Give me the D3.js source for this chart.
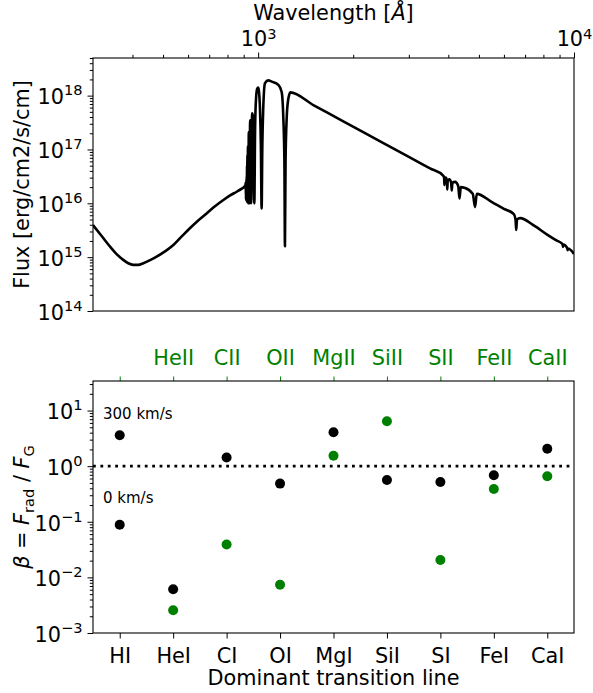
<!DOCTYPE html>
<html>
<head>
<meta charset="utf-8">
<script src="https://cdn.jsdelivr.net/npm/d3@7"></script>
<style>
  body { margin: 0; background: #fff; }
  text { font-family: "DejaVu Sans", sans-serif; }
</style>
</head>
<body>
<script>
// ---------------- DATA ----------------
const wavelength = [300, 320, 340, 357, 374, 388, 402, 417, 433, 455, 477, 507, 539, 572, 608, 646, 687, 730, 776, 815, 855, 885, 905, 912,
  913.2, 915.3, 915.55, 915.8, 916.1, 916.4, 916.8, 917.2, 917.65, 918.1, 918.7, 919.35, 920.15, 920.96,
  922.0, 923.15, 924.6, 926.23, 928.4, 930.75, 934.2, 937.8, 943.5, 949.74, 957, 962, 972.54,
  978, 985, 993, 1000, 1006, 1013, 1020, 1025.7, 1031, 1038, 1051, 1077, 1104, 1159, 1187,
  1201, 1211, 1215.7, 1221, 1232, 1245, 1255, 1263, 1500, 1817, 2500, 3000, 3500,
  3860, 3880, 3889, 3898, 3925, 3960, 3970, 3982, 4030, 4085, 4102, 4120, 4200, 4300, 4340, 4380,
  4500, 4780, 4861, 4923, 5500, 6000, 6450, 6530, 6563, 6600, 6748, 7500, 8199, 8800,
  9200, 9229, 9260, 9500, 9546, 9580, 10000];
const flux = [3.95e15, 2.45e15, 1.56e15, 1.13e15, 8.9e14, 7.7e14, 7.2e14, 7.2e14, 7.7e14, 8.8e14, 1.02e15, 1.28e15, 1.68e15, 2.4e15, 3.44e15, 4.8e15, 6.5e15, 8.8e15, 1.15e16, 1.4e16, 1.64e16, 1.85e16, 2.05e16, 2.2e16,
  2.4e16, 1.2e16, 2.3e16, 1.2e16, 2.4e16, 1.2e16, 2.5e16, 1.15e16, 2.6e16, 1.1e16, 2.8e16, 1.1e16, 3.2e16, 1.1e16,
  5.0e16, 1.05e16, 8.0e16, 1.05e16, 1.15e17, 1.0e16, 2.1e17, 1.0e16, 3.5e17, 1.0e16, 4.7e17, 4.2e17, 1.0e16,
  2.5e17, 9e17, 1.35e18, 1.42e18, 1.2e18, 6e17, 1.2e17, 8e15, 1.2e17, 6e17, 1.7e18, 1.92e18, 1.82e18, 1.58e18, 1.17e18,
  4.1e17, 6e16, 1.6e15, 6e16, 4.1e17, 8.5e17, 1.05e18, 1.15e18, 6.6e17, 3.6e17, 1.3e17, 7.3e16, 4.45e16,
  3.25e16, 2.9e16, 2.2e16, 2.9e16, 3.0e16, 2.6e16, 1.8e16, 2.6e16, 2.8e16, 2.4e16, 1.73e16, 2.4e16, 2.5e16, 2.1e16, 1.23e16, 2.0e16,
  1.95e16, 1.5e16, 8.5e15, 1.5e16, 1.05e16, 7.9e15, 6.3e15, 5.0e15, 3.2e15, 5.0e15, 5.3e15, 3.8e15, 2.65e15, 2.05e15,
  1.75e15, 1.55e15, 1.72e15, 1.5e15, 1.35e15, 1.45e15, 1.15e15];

const wlMajorTicks = [1000, 10000];
const wlMinorTicks = [400, 500, 600, 700, 800, 900, 2000, 3000, 4000, 5000, 6000, 7000, 8000, 9000];
const fluxMajorTicks = [1e14, 1e15, 1e16, 1e17, 1e18];

const neutralLabels = ["HI", "HeI", "CI", "OI", "MgI", "SiI", "SI", "FeI", "CaI"];
const ionLabels = ["", "HeII", "CII", "OII", "MgII", "SiII", "SII", "FeII", "CaII"];
const betaNeutral = [0.0885, 0.0061, 1.43, 0.486, 4.06, 0.566, 0.521, 0.687, 2.06];
const betaHI300 = 3.6;
const betaIon = [null, 0.00257, 0.039, 0.00737, 1.54, 6.4, 0.0206, 0.389, 0.66];
const betaMajorTicks = [1e-3, 1e-2, 1e-1, 1e0, 1e1];
const velocityLabels = ["300 km/s", "0 km/s"];

// ---------------- SETUP ----------------
const W = 593, H = 693;
const FS = 20.8, FSsup = 14.6;
const GREEN = "#008000";
const svg = d3.select("body").append("svg").attr("width", W).attr("height", H);

function minorLog(lo, hi) {
  const out = [];
  for (let e = Math.floor(Math.log10(lo)); e <= Math.ceil(Math.log10(hi)); e++) {
    for (let k = 2; k <= 9; k++) {
      const v = k * Math.pow(10, e);
      if (v >= lo && v <= hi) out.push(v);
    }
  }
  return out;
}
function supLabels(g, supDy) {
  g.selectAll(".tick text").each(function (d) {
    const t = d3.select(this);
    const e = Math.round(Math.log10(d));
    t.text(null);
    t.append("tspan").text("10");
    t.append("tspan").attr("font-size", FSsup).attr("dy", supDy).text(e < 0 ? "\u2212" + (-e) : String(e));
  });
}
function styleAxis(g, color) {
  g.select(".domain").remove();
  g.selectAll(".tick line").attr("stroke", color).attr("stroke-width", 1);
  g.selectAll(".tick text").attr("fill", color).attr("font-size", FS).attr("font-family", "DejaVu Sans");
}

// ---------------- TOP PANEL ----------------
const L = 93, R = 574, T1 = 58, B1 = 311;
const x1 = d3.scaleLog().domain([300, 10000]).range([L, R]);
const y1 = d3.scaleLog().domain([1e14, 5e18]).range([B1, T1]);

svg.append("clipPath").attr("id", "clip1").append("rect")
  .attr("x", L).attr("y", T1).attr("width", R - L).attr("height", B1 - T1);

const spec = wavelength.map((w, i) => [w, flux[i]]);
svg.append("path").datum(spec)
  .attr("clip-path", "url(#clip1)")
  .attr("fill", "none").attr("stroke", "#000").attr("stroke-width", 2.6)
  .attr("stroke-linejoin", "round")
  .attr("d", d3.line().curve(d3.curveMonotoneX).x(d => x1(d[0])).y(d => y1(d[1])));

// top x axis
const gx1 = svg.append("g").attr("transform", `translate(0,${T1})`)
  .call(d3.axisTop(x1).tickValues(wlMajorTicks).tickSize(5.5));
styleAxis(gx1, "#000");
gx1.selectAll(".tick text").attr("dy", null).attr("y", -12);
supLabels(gx1, -7.5);
const gx1m = svg.append("g").attr("transform", `translate(0,${T1})`)
  .call(d3.axisTop(x1).tickValues(wlMinorTicks).tickSize(3.2).tickFormat(() => ""));
styleAxis(gx1m, "#000");

// left y axis
const gy1 = svg.append("g").attr("transform", `translate(${L},0)`)
  .call(d3.axisLeft(y1).tickValues(fluxMajorTicks).tickSize(5.5).tickPadding(5));
styleAxis(gy1, "#000");
gy1.selectAll(".tick text").attr("dy", "0.4em");
supLabels(gy1, -9);
const gy1m = svg.append("g").attr("transform", `translate(${L},0)`)
  .call(d3.axisLeft(y1).tickValues(minorLog(1e14, 5e18)).tickSize(3.2).tickFormat(() => ""));
styleAxis(gy1m, "#000");

svg.append("rect").attr("x", L).attr("y", T1).attr("width", R - L).attr("height", B1 - T1)
  .attr("fill", "none").attr("stroke", "#000").attr("stroke-width", 1.1);

// axis titles
const wt = svg.append("text").attr("x", (L + R) / 2).attr("y", 19.5).attr("text-anchor", "middle").attr("font-size", FS);
wt.append("tspan").text("Wavelength [");
wt.append("tspan").attr("font-style", "italic").text("\u00C5");
wt.append("tspan").text("]");

svg.append("text").attr("transform", `translate(29,${(T1 + B1) / 2}) rotate(-90)`)
  .attr("text-anchor", "middle").attr("font-size", FS).text("Flux [erg/cm2/s/cm]");

// ---------------- BOTTOM PANEL ----------------
const T2 = 381, B2 = 633;
const x2 = d3.scaleLinear().domain([-0.5, 8.5]).range([L, R]);
const y2 = d3.scaleLog().domain([1e-3, 34]).range([B2, T2]);

// dotted line at beta = 1
svg.append("line").attr("x1", L).attr("x2", R).attr("y1", y2(1)).attr("y2", y2(1))
  .attr("stroke", "#000").attr("stroke-width", 2.8).attr("stroke-dasharray", "2.8,4.6");

// points
const gPts = svg.append("g");
gPts.selectAll("circle.neutral").data(betaNeutral).join("circle")
  .attr("cx", (d, i) => x2(i)).attr("cy", d => y2(d)).attr("r", 5).attr("fill", "#000");
gPts.append("circle").attr("cx", x2(0)).attr("cy", y2(betaHI300)).attr("r", 5).attr("fill", "#000");
gPts.selectAll("circle.ion").data(betaIon.map((v, i) => [i, v]).filter(d => d[1] !== null)).join("circle")
  .attr("cx", d => x2(d[0])).attr("cy", d => y2(d[1])).attr("r", 5).attr("fill", GREEN);

// bottom x axis
const gx2 = svg.append("g").attr("transform", `translate(0,${B2})`)
  .call(d3.axisBottom(x2).tickValues(d3.range(9)).tickSize(5.5).tickFormat(i => neutralLabels[i]));
styleAxis(gx2, "#000");
gx2.selectAll(".tick text").attr("dy", null).attr("y", 29.5);

// top green axis
const gx2t = svg.append("g").attr("transform", `translate(0,${T2})`)
  .call(d3.axisTop(x2).tickValues(d3.range(9)).tickSize(4.5).tickFormat(i => ionLabels[i]));
styleAxis(gx2t, GREEN);
gx2t.selectAll(".tick text").attr("dy", null).attr("y", -16.5);

// left y axis
const gy2 = svg.append("g").attr("transform", `translate(${L},0)`)
  .call(d3.axisLeft(y2).tickValues(betaMajorTicks).tickSize(5.5).tickPadding(5));
styleAxis(gy2, "#000");
gy2.selectAll(".tick text").attr("dy", "0.4em");
supLabels(gy2, -9);
const gy2m = svg.append("g").attr("transform", `translate(${L},0)`)
  .call(d3.axisLeft(y2).tickValues(minorLog(1e-3, 34)).tickSize(3.2).tickFormat(() => ""));
styleAxis(gy2m, "#000");

svg.append("rect").attr("x", L).attr("y", T2).attr("width", R - L).attr("height", B2 - T2)
  .attr("fill", "none").attr("stroke", "#000").attr("stroke-width", 1.1);

// annotations
svg.append("text").attr("x", 103).attr("y", 419).attr("font-size", 15).text(velocityLabels[0]);
svg.append("text").attr("x", 103).attr("y", 503).attr("font-size", 15).text(velocityLabels[1]);

svg.append("text").attr("x", (L + R) / 2).attr("y", 685).attr("text-anchor", "middle")
  .attr("font-size", FS).text("Dominant transition line");

const bl = svg.append("text").attr("transform", `translate(29,${(T2 + B2) / 2}) rotate(-90)`)
  .attr("text-anchor", "middle").attr("font-size", FS);
bl.append("tspan").attr("font-style", "italic").text("\u03B2");
bl.append("tspan").text(" = ");
bl.append("tspan").attr("font-style", "italic").text("F");
bl.append("tspan").attr("font-size", FSsup).attr("dy", 4.5).text("rad");
bl.append("tspan").attr("dy", -4.5).text(" / ");
bl.append("tspan").attr("font-style", "italic").text("F");
bl.append("tspan").attr("font-size", FSsup).attr("dy", 4.5).text("G");
</script>
</body>
</html>
